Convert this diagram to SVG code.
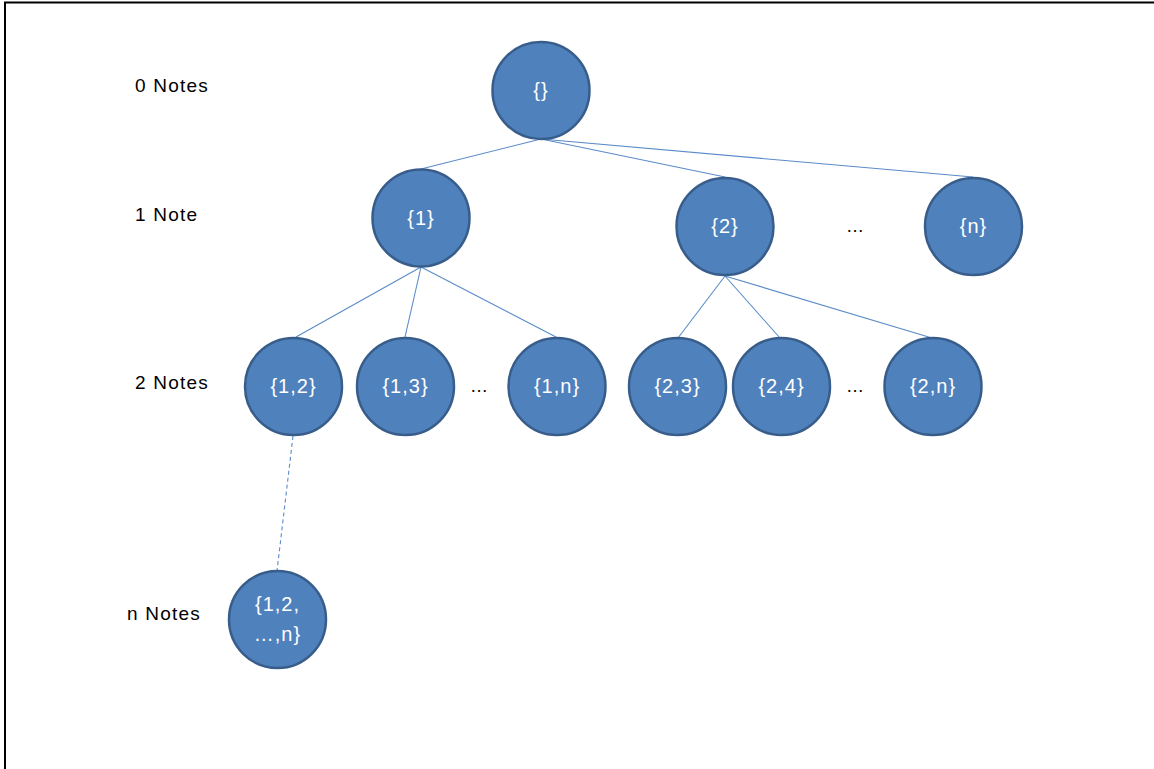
<svg xmlns="http://www.w3.org/2000/svg" width="1154" height="769" viewBox="0 0 1154 769">
<style>
.node circle{fill:#4F81BD;stroke:#385D8A;stroke-width:2.5}
.node text{fill:#FFFFFF;font-family:"Liberation Sans",Arial,sans-serif;font-size:20px;letter-spacing:1px;text-anchor:middle}
.lbl{fill:#000000;font-family:"Liberation Sans",Arial,sans-serif;font-size:19px;letter-spacing:1.2px}
.dots{fill:#000000;font-family:"Liberation Sans",Arial,sans-serif;font-size:18px;text-anchor:middle}
#connectors line{stroke:#5B8BC9;stroke-width:1.1}
</style>
<rect width="1154" height="769" fill="#FFFFFF"/>
<g id="frame" stroke="#000000" stroke-width="2" fill="none">
<polyline points="5,769 5,2.5 1154,2.5"/>
</g>
<g id="connectors">
<line x1="541" y1="139" x2="421" y2="169"/>
<line x1="541" y1="139" x2="725" y2="177"/>
<line x1="541" y1="139" x2="973" y2="177"/>
<line x1="421" y1="267" x2="296" y2="337"/>
<line x1="421" y1="267" x2="405" y2="337"/>
<line x1="421" y1="267" x2="556" y2="337"/>
<line x1="725" y1="276" x2="678" y2="338"/>
<line x1="725" y1="276" x2="780" y2="338"/>
<line x1="725" y1="276" x2="932" y2="338"/>
<line x1="293" y1="436" x2="277" y2="571" stroke-dasharray="4,3"/>
</g>
<g id="labels">
<text class="lbl" x="135" y="92">0 Notes</text>
<text class="lbl" x="135" y="221">1 Note</text>
<text class="lbl" x="135" y="389">2 Notes</text>
<text class="lbl" x="127" y="620">n Notes</text>
</g>
<g id="node-empty" class="node"><circle cx="541" cy="90.5" r="48.5"/><text x="541" y="97">{}</text></g>
<g id="node-1" class="node"><circle cx="421" cy="218" r="48.5"/><text x="421" y="225">{1}</text></g>
<g id="node-2" class="node"><circle cx="725" cy="226.5" r="48.5"/><text x="725" y="233">{2}</text></g>
<g id="node-n" class="node"><circle cx="973.5" cy="226.5" r="48.5"/><text x="973.5" y="233">{n}</text></g>
<g id="node-12" class="node"><circle cx="293.5" cy="386.5" r="48.5"/><text x="293.5" y="393">{1,2}</text></g>
<g id="node-13" class="node"><circle cx="405.5" cy="386.5" r="48.5"/><text x="405.5" y="393">{1,3}</text></g>
<g id="node-1n" class="node"><circle cx="557" cy="386.5" r="48.5"/><text x="557" y="393">{1,n}</text></g>
<g id="node-23" class="node"><circle cx="677.5" cy="386.5" r="48.5"/><text x="677.5" y="393">{2,3}</text></g>
<g id="node-24" class="node"><circle cx="781.5" cy="386.5" r="48.5"/><text x="781.5" y="393">{2,4}</text></g>
<g id="node-2n" class="node"><circle cx="933" cy="386.5" r="48.5"/><text x="933" y="393">{2,n}</text></g>
<g id="node-all" class="node"><circle cx="277.5" cy="619.5" r="48.5"/><text x="277.5" y="611">{1,2,</text><text x="277.5" y="641">…,n}</text></g>
<g id="ellipses">
<text class="dots" x="855" y="232">…</text>
<text class="dots" x="479" y="392">…</text>
<text class="dots" x="855" y="392">…</text>
</g>
</svg>
